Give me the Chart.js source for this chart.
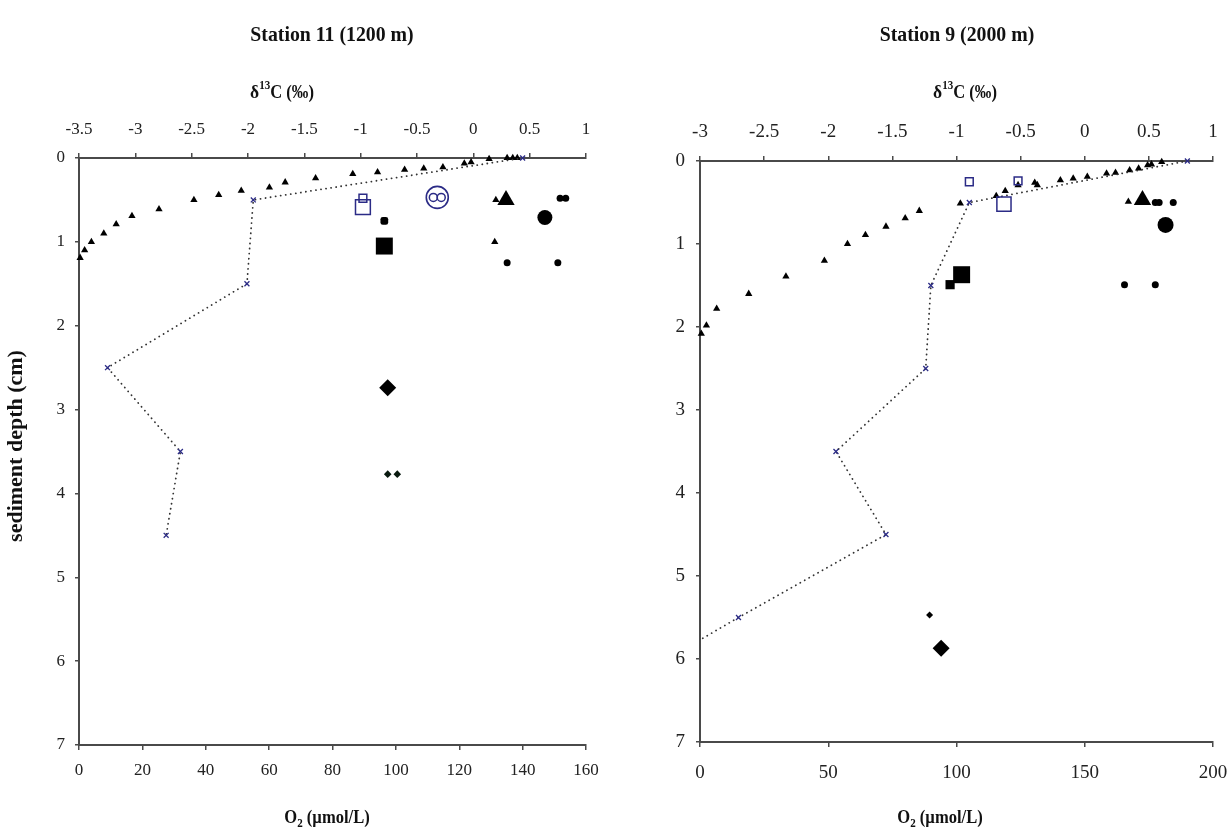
<!DOCTYPE html>
<html><head><meta charset="utf-8">
<script src="https://cdn.jsdelivr.net/npm/chart.js@4"></script>
<style>
html,body{margin:0;padding:0;background:#fff;width:1230px;height:829px;overflow:hidden}
.box{position:absolute;top:0}
</style></head><body>
<div class="box" style="left:0"><canvas id="c11" width="620" height="829"></canvas></div>
<div class="box" style="left:620px"><canvas id="c9" width="650" height="829"></canvas></div>
<script>
// ---------- Axis ticks ----------
const depthTicks = [0, 1, 2, 3, 4, 5, 6, 7];
const o2Ticks11 = [0, 20, 40, 60, 80, 100, 120, 140, 160];
const o2Ticks9 = [0, 50, 100, 150, 200];
const d13cTicks11 = [-3.5, -3, -2.5, -2, -1.5, -1, -0.5, 0, 0.5, 1];
const d13cTicks9 = [-3, -2.5, -2, -1.5, -1, -0.5, 0, 0.5, 1];

// ---------- Station 11 (1200 m) ----------
const st11_o2_depth = [0, 0.5, 1.5, 2.5, 3.5, 4.5];
const st11_o2_value = [140, 55, 53, 9, 32, 27.5];

const st11_smallTri_d13C = [-3.49, -3.45, -3.39, -3.28, -3.17, -3.03, -2.79, -2.48, -2.26, -2.06, -1.81, -1.67, -1.40, -1.07, -0.85, -0.61, -0.44, -0.27, -0.08, -0.02, 0.14, 0.30, 0.35, 0.39, 0.20, 0.19];
const st11_smallTri_depth = [1.19, 1.10, 1.00, 0.90, 0.79, 0.69, 0.61, 0.50, 0.44, 0.39, 0.35, 0.29, 0.24, 0.19, 0.17, 0.14, 0.125, 0.11, 0.065, 0.05, 0.01, 0, 0, 0, 0.50, 1.00];
const st11_bigTri_d13C = [0.29];
const st11_bigTri_depth = [0.50];
const st11_bigSquare_d13C = [-0.79];
const st11_bigSquare_depth = [1.05];
const st11_smallBar_d13C = [-0.79];
const st11_smallBar_depth = [0.75];
const st11_bigCircle_d13C = [0.635];
const st11_bigCircle_depth = [0.71];
const st11_smallCircle_d13C = [0.77, 0.82, 0.30, 0.75];
const st11_smallCircle_depth = [0.48, 0.48, 1.25, 1.25];
const st11_openSqBig_d13C = [-0.98];
const st11_openSqBig_depth = [0.585];
const st11_openSqSmall_d13C = [-0.98];
const st11_openSqSmall_depth = [0.48];
const st11_openCircBig_d13C = [-0.32];
const st11_openCircBig_depth = [0.47];
const st11_openCircSmall_d13C = [-0.355, -0.285];
const st11_openCircSmall_depth = [0.47, 0.47];
const st11_bigDiamond_d13C = [-0.76];
const st11_bigDiamond_depth = [2.74];
const st11_smallDiamond_d13C = [-0.76, -0.675];
const st11_smallDiamond_depth = [3.77, 3.77];

// ---------- Station 9 (2000 m) ----------
const st9_o2_depth = [0, 0.5, 1.5, 2.5, 3.5, 4.5, 5.5, 5.77];
const st9_o2_value = [190, 105, 90, 88, 53, 72.5, 15, 0];

const st9_smallTri_d13C = [-2.99, -2.95, -2.87, -2.62, -2.33, -2.03, -1.85, -1.71, -1.55, -1.40, -1.29, -0.97, -0.69, -0.62, -0.52, -0.39, -0.37, -0.19, -0.09, 0.02, 0.17, 0.24, 0.35, 0.42, 0.49, 0.52, 0.60, 0.34];
const st9_smallTri_depth = [2.08, 1.98, 1.78, 1.60, 1.39, 1.20, 1.00, 0.89, 0.79, 0.69, 0.60, 0.51, 0.42, 0.36, 0.29, 0.26, 0.29, 0.23, 0.21, 0.19, 0.15, 0.14, 0.11, 0.09, 0.05, 0.04, 0.01, 0.49];
const st9_bigTri_d13C = [0.45];
const st9_bigTri_depth = [0.47];
const st9_bigCircle_d13C = [0.63];
const st9_bigCircle_depth = [0.77];
const st9_smallCircle_d13C = [0.55, 0.58, 0.69, 0.31, 0.55];
const st9_smallCircle_depth = [0.50, 0.50, 0.50, 1.49, 1.49];
const st9_bigSquare_d13C = [-0.96];
const st9_bigSquare_depth = [1.37];
const st9_smallSquare_d13C = [-1.05];
const st9_smallSquare_depth = [1.49];
const st9_openSqSmall_d13C = [-0.90, -0.52];
const st9_openSqSmall_depth = [0.25, 0.24];
const st9_openSqBig_d13C = [-0.63];
const st9_openSqBig_depth = [0.52];
const st9_smallDiamond_d13C = [-1.21];
const st9_smallDiamond_depth = [5.47];
const st9_bigDiamond_d13C = [-1.12];
const st9_bigDiamond_depth = [5.87];

// ---------- helpers ----------
const NAVY = '#2b2b86';
const AXIS = '#4a4a4a';
const SERIF = '"Liberation Serif","Times New Roman",serif';
const pts = (xs, ys) => xs.map((x, i) => ({ x: x, y: ys[i] }));

function marker(xs, ys, style, radius, fill, stroke, bw) {
  return {
    data: pts(xs, ys), xAxisID: 'xc', yAxisID: 'y', showLine: false, clip: false,
    pointStyle: style, pointRadius: radius, pointHoverRadius: radius,
    pointBackgroundColor: fill, pointBorderColor: stroke, pointBorderWidth: bw
  };
}
function o2Line(xs, ys) {
  return {
    data: pts(xs, ys), xAxisID: 'xo', yAxisID: 'y', showLine: true, clip: false,
    borderColor: '#333', borderWidth: 1.8, borderDash: [0.1, 5], borderCapStyle: 'round',
    pointStyle: 'crossRot',
    pointRadius: c => (c.raw && c.raw.x === 0 ? 0 : 3.5),
    pointBorderColor: NAVY, pointBackgroundColor: NAVY, pointBorderWidth: 1.3,
    fill: false, tension: 0
  };
}

function drawParts(ctx, t) {
  ctx.save();
  let total = 0;
  t.parts.forEach(p => { ctx.font = p.font; p.w = ctx.measureText(p.t).width; total += p.w; });
  ctx.translate(t.x, t.y);
  if (t.rot) ctx.rotate(t.rot);
  ctx.scale(t.sx || 1, 1);
  ctx.textBaseline = 'middle';
  ctx.textAlign = 'left';
  ctx.fillStyle = '#111';
  let x = -total / 2;
  t.parts.forEach(p => { ctx.font = p.font; ctx.fillText(p.t, x, p.dy || 0); x += p.w; });
  ctx.restore();
}

function makeChart(id, W, H, area, datasets, texts, o2Ticks, cTicks, tk) {
  const tickFont = { family: SERIF, size: tk.size };
  const grid = { drawOnChartArea: false, drawTicks: true, tickLength: 5, color: AXIS, lineWidth: 1.5 };
  const border = { display: true, color: AXIS, width: 2 };
  const fmt = v => String(v);
  return new Chart(document.getElementById(id), {
    type: 'scatter',
    data: { datasets: datasets },
    options: {
      responsive: false, animation: false, devicePixelRatio: 1,
      layout: { padding: { left: 0, top: 0, bottom: 0, right: W - area.right } },
      plugins: { legend: { display: false }, tooltip: { enabled: false } },
      scales: {
        xo: {
          type: 'linear', position: 'bottom', min: o2Ticks[0], max: o2Ticks[o2Ticks.length - 1],
          afterBuildTicks: s => { s.ticks = o2Ticks.map(v => ({ value: v })); },
          ticks: { font: tickFont, color: '#222', padding: tk.bottomPad, maxRotation: 0, callback: fmt },
          grid: grid, border: border,
          afterFit: s => { s.height = H - area.bottom; }
        },
        xc: {
          type: 'linear', position: 'top', min: cTicks[0], max: cTicks[cTicks.length - 1],
          afterBuildTicks: s => { s.ticks = cTicks.map(v => ({ value: v })); },
          ticks: { font: tickFont, color: '#222', padding: tk.topPad, maxRotation: 0, callback: fmt },
          grid: grid, border: border,
          afterFit: s => { s.height = area.top; }
        },
        y: {
          type: 'linear', position: 'left', reverse: true, min: 0, max: 7,
          afterBuildTicks: s => { s.ticks = depthTicks.map(v => ({ value: v })); },
          ticks: { font: tickFont, color: '#222', padding: tk.leftPad, callback: fmt },
          grid: Object.assign({}, grid, { tickLength: 4 }), border: border,
          afterFit: s => { s.width = area.left; }
        }
      }
    },
    plugins: [{
      id: 'panelText',
      afterDraw(chart) { texts.forEach(t => drawParts(chart.ctx, t)); }
    }]
  });
}

const bold = s => 'bold ' + s + 'px ' + SERIF;
const d13cLabel = (x) => ({ x: x, y: 93, sx: 0.92, parts: [
  { t: 'δ', font: bold(19) }, { t: '13', font: bold(12), dy: -7 }, { t: 'C (‰)', font: bold(18) }] });
const o2Label = (x) => ({ x: x, y: 818, sx: 0.92, parts: [
  { t: 'O', font: bold(18) }, { t: '2', font: bold(12), dy: 6 }, { t: ' (µmol/L)', font: bold(18) }] });

// ---------- Station 11 chart ----------
makeChart('c11', 620, 829, { left: 79, right: 586, top: 158, bottom: 745 }, [
  marker(st11_openCircSmall_d13C, st11_openCircSmall_depth, 'circle', 4, 'rgba(0,0,0,0)', NAVY, 1.5),
  marker(st11_openCircBig_d13C, st11_openCircBig_depth, 'circle', 11, 'rgba(0,0,0,0)', NAVY, 1.6),
  marker(st11_openSqSmall_d13C, st11_openSqSmall_depth, 'rect', 5.5, 'rgba(0,0,0,0)', NAVY, 1.5),
  marker(st11_openSqBig_d13C, st11_openSqBig_depth, 'rect', 10.5, 'rgba(0,0,0,0)', NAVY, 1.5),
  o2Line(st11_o2_value, st11_o2_depth),
  marker(st11_smallTri_d13C, st11_smallTri_depth, 'triangle', 4.2, '#000', '#000', 0),
  marker(st11_bigTri_d13C, st11_bigTri_depth, 'triangle', 10, '#000', '#000', 0),
  marker(st11_bigSquare_d13C, st11_bigSquare_depth, 'rect', 12, '#000', '#000', 0),
  marker(st11_smallBar_d13C, st11_smallBar_depth, 'rectRounded', 4.5, '#000', '#000', 0),
  marker(st11_bigCircle_d13C, st11_bigCircle_depth, 'circle', 7.5, '#000', '#000', 0),
  marker(st11_smallCircle_d13C, st11_smallCircle_depth, 'circle', 3.5, '#000', '#000', 0),
  marker(st11_bigDiamond_d13C, st11_bigDiamond_depth, 'rectRot', 8.5, '#000', '#000', 0),
  marker(st11_smallDiamond_d13C, st11_smallDiamond_depth, 'rectRot', 3.8, '#0a1a10', '#0a1a10', 0)
], [
  { x: 332, y: 35, sx: 0.9, parts: [{ t: 'Station 11 (1200 m)', font: bold(22) }] },
  d13cLabel(282),
  o2Label(327),
  { x: 16, y: 446, rot: -Math.PI / 2, parts: [{ t: 'sediment depth (cm)', font: bold(22) }] }
], o2Ticks11, d13cTicks11, { size: 17, topPad: 13, bottomPad: 10, leftPad: 10 });

// ---------- Station 9 chart ----------
makeChart('c9', 650, 829, { left: 80, right: 593, top: 161, bottom: 742 }, [
  marker(st9_openSqSmall_d13C, st9_openSqSmall_depth, 'rect', 5.5, 'rgba(0,0,0,0)', NAVY, 1.5),
  marker(st9_openSqBig_d13C, st9_openSqBig_depth, 'rect', 10, 'rgba(0,0,0,0)', NAVY, 1.5),
  o2Line(st9_o2_value, st9_o2_depth),
  marker(st9_smallTri_d13C, st9_smallTri_depth, 'triangle', 4.2, '#000', '#000', 0),
  marker(st9_bigTri_d13C, st9_bigTri_depth, 'triangle', 10, '#000', '#000', 0),
  marker(st9_bigCircle_d13C, st9_bigCircle_depth, 'circle', 8, '#000', '#000', 0),
  marker(st9_smallCircle_d13C, st9_smallCircle_depth, 'circle', 3.5, '#000', '#000', 0),
  marker(st9_bigSquare_d13C, st9_bigSquare_depth, 'rect', 12, '#000', '#000', 0),
  marker(st9_smallSquare_d13C, st9_smallSquare_depth, 'rect', 6.5, '#000', '#000', 0),
  marker(st9_smallDiamond_d13C, st9_smallDiamond_depth, 'rectRot', 3.5, '#000', '#000', 0),
  marker(st9_bigDiamond_d13C, st9_bigDiamond_depth, 'rectRot', 8.5, '#000', '#000', 0)
], [
  { x: 337, y: 35, sx: 0.9, parts: [{ t: 'Station 9 (2000 m)', font: bold(22) }] },
  d13cLabel(345),
  o2Label(320)
], o2Ticks9, d13cTicks9, { size: 19, topPad: 13, bottomPad: 15, leftPad: 11 });
</script>
</body></html>
